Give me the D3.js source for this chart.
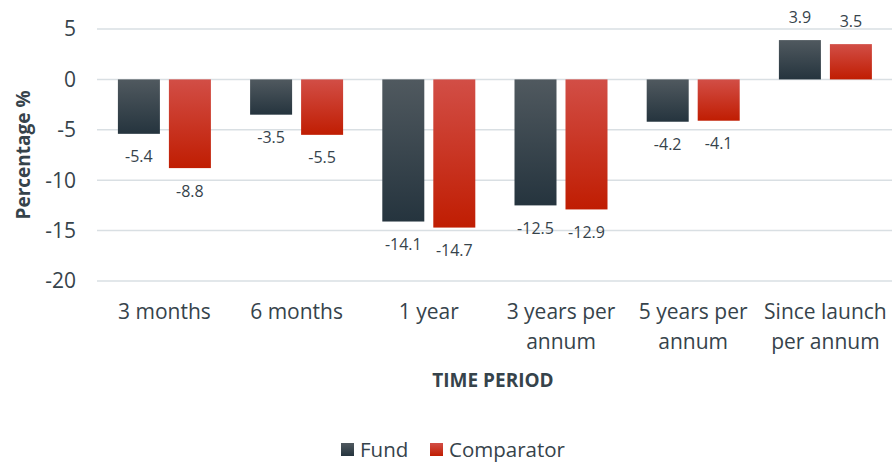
<!DOCTYPE html>
<html>
<head>
<meta charset="utf-8">
<script src="https://d3js.org/d3.v7.min.js"></script>
<style>
  body { margin: 0; background: #fff; }
  text { font-family: "Open Sans", "Noto Sans", sans-serif; fill: #36434b; }
</style>
</head>
<body>
<div id="chart"></div>
<script>
var periods = [["3 months"], ["6 months"], ["1 year"], ["3 years per", "annum"], ["5 years per", "annum"], ["Since launch", "per annum"]];
var fund = [-5.4, -3.5, -14.1, -12.5, -4.2, 3.9];
var comparator = [-8.8, -5.5, -14.7, -12.9, -4.1, 3.5];
var yTicks = [5, 0, -5, -10, -15, -20];
var seriesNames = ["Fund", "Comparator"];

var W = 894, H = 463;
var m = {left: 98.3, right: 891.5, top: 29, bottom: 281};

var svg = d3.select("#chart").append("svg").attr("width", W).attr("height", H);

var defs = svg.append("defs");
function grad(id, c1, c2) {
  var g = defs.append("linearGradient").attr("id", id).attr("x1", 0).attr("y1", 0).attr("x2", 0).attr("y2", 1);
  g.append("stop").attr("offset", "0%").attr("stop-color", c1);
  g.append("stop").attr("offset", "100%").attr("stop-color", c2);
}
grad("gFund", "#50595f", "#25343e");
grad("gComp", "#d24e46", "#c01d02");
var fills = ["url(#gFund)", "url(#gComp)"];

var x = d3.scaleBand().domain(d3.range(periods.length)).range([m.left, m.right]);
var y = d3.scaleLinear().domain([-20, 5]).range([m.bottom, m.top]);
var bw = 42, gap = 9;
var off = (x.bandwidth() - (2 * bw + gap)) / 2;
function bx(d) { return x(d.i) + off + d.s * (bw + gap); }

// gridlines
svg.append("g").selectAll("line").data(yTicks).join("line")
  .attr("x1", 97).attr("x2", 892)
  .attr("y1", d => y(d)).attr("y2", d => y(d))
  .attr("stroke", "#d9dfe3").attr("stroke-width", 1.5);

// y tick labels
svg.append("g").selectAll("text").data(yTicks).join("text")
  .attr("x", 76).attr("y", d => y(d)).attr("dy", "0.35em")
  .attr("text-anchor", "end").style("font-size", "21px")
  .text(d => d);

var data = [];
periods.forEach(function(p, i) {
  [fund[i], comparator[i]].forEach(function(v, s) { data.push({i: i, s: s, v: v}); });
});

svg.append("g").selectAll("rect").data(data).join("rect")
  .attr("x", bx)
  .attr("width", bw)
  .attr("y", d => y(Math.max(0, d.v)))
  .attr("height", d => Math.abs(y(d.v) - y(0)))
  .attr("fill", d => fills[d.s]);

// value labels
svg.append("g").selectAll("text").data(data).join("text")
  .attr("x", d => bx(d) + bw / 2)
  .attr("y", d => d.v < 0 ? y(d.v) + 23 : y(d.v) - 23)
  .attr("dy", "0.35em").attr("text-anchor", "middle")
  .style("font-size", "16px")
  .text(d => d.v.toFixed(1));

// category labels
var cat = svg.append("g").selectAll("text").data(periods).join("text")
  .attr("x", (d, i) => x(i) + x.bandwidth() / 2)
  .attr("y", 312)
  .attr("text-anchor", "middle").style("font-size", "21px");
cat.selectAll("tspan").data(d => d).join("tspan")
  .attr("x", function() { return d3.select(this.parentNode).attr("x"); })
  .attr("dy", (d, k) => k === 0 ? "0.35em" : "1.42em")
  .text(d => d);

// axis titles
svg.append("text").attr("x", 493).attr("y", 380).attr("dy", "0.35em")
  .attr("text-anchor", "middle").style("font-size", "19px").style("font-weight", "bold")
  .text("TIME PERIOD");
svg.append("text").attr("transform", "translate(23," + ((m.top + m.bottom) / 2) + ") rotate(-90)")
  .attr("dy", "0.35em").attr("text-anchor", "middle")
  .style("font-size", "19px").style("font-weight", "bold")
  .text("Percentage %");

// legend
var lg = svg.append("g");
var lx = [341, 430];
seriesNames.forEach(function(n, s) {
  lg.append("rect").attr("x", lx[s]).attr("y", 443).attr("width", 13).attr("height", 13).attr("fill", fills[s]);
  lg.append("text").attr("x", lx[s] + 19).attr("y", 450).attr("dy", "0.35em")
    .style("font-size", "20.5px").text(n);
});
</script>
</body>
</html>
